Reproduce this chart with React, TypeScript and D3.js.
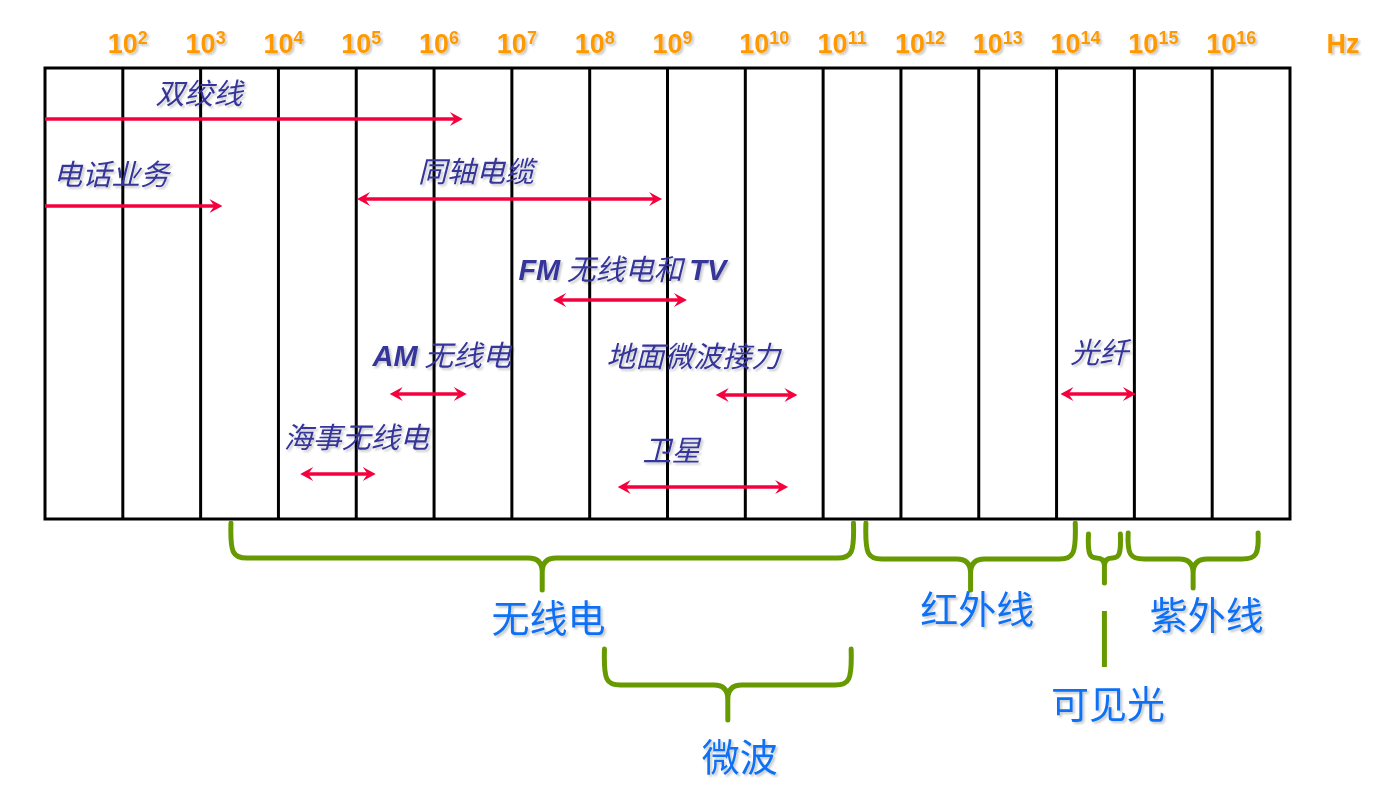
import * as d3 from "d3";

// frequency exponents shown on the top axis
const TICK_EXPONENTS = [2, 3, 4, 5, 6, 7, 8, 9, 10, 11, 12, 13, 14, 15, 16];
const DOMAIN_EXP = [1, 17];

// transmission media: ranges in log10(Hz)
const MEDIA = ["双绞线", "电话业务", "同轴电缆", "FM 无线电和 TV", "AM 无线电", "地面微波接力", "海事无线电", "卫星", "光纤"];
const MEDIA_FROM = [1, 1, 5.01, 7.53, 5.43, 9.62, 4.28, 8.36, 14.05];
const MEDIA_TO = [6.37, 3.28, 8.93, 9.25, 6.42, 10.67, 5.25, 10.55, 15.02];
const MEDIA_BOTH = [false, false, true, true, true, true, true, true, true];
const MEDIA_LEVEL = [51, 138, 131, 232, 326, 327, 406, 419, 326];
const LABEL_AT = [2.98, 1.85, 6.54, 8.42, 6.1, 9.33, 5.0, 9.05, 14.55];
const LABEL_LEVEL = [36, 117, 114, 212, 298, 299, 380, 393, 295];

// spectrum bands (braces under the box)
const BANDS = ["无线电", "微波", "红外线", "可见光", "紫外线"];
const BAND_FROM = [3.39, 8.19, 11.55, 14.41, 14.92];
const BAND_TO = [11.39, 11.36, 14.24, 14.82, 16.59];
const BAND_LABEL_AT = [7.47, 9.93, 12.98, 14.66, 15.93];

// brace layout (pixels): top, horizontal, tip, label baseline
const BRACE_LAYOUT = [
  { top: 523, mid: 558, tip: 590, base: 632 },
  { top: 649, mid: 685, tip: 720, base: 771 },
  { top: 523, mid: 559, tip: 590, base: 623 },
  { top: 534, mid: 558, tip: 583, base: 718, stem: [611, 667] },
  { top: 533, mid: 559, tip: 588, base: 629 },
];

const W = 1386, H = 804;
const BOX = { l: 45, r: 1290, t: 68, b: 519 };
const ORANGE = "#FF9900";
const RED = "#F5003C";
const NAVY = "#34349A";
const BLUE = "#1070F5";
const GREEN = "#669A00";
const CJK = "'Noto Sans CJK SC', sans-serif";
const LATIN = "'Liberation Sans', Arial, sans-serif";

function bracePath(x0: number, x1: number, top: number, mid: number, tip: number) {
  const xm = (x0 + x1) / 2;
  const r = Math.min(16, (x1 - x0) / 4);
  const r2 = Math.min(14, (x1 - x0) / 4);
  return `M${x0},${top} C${x0 - 1},${mid - r * 0.3} ${x0 + 2},${mid} ${x0 + r},${mid}`
    + ` L${xm - r2},${mid} Q${xm},${mid} ${xm},${mid + r2} L${xm},${tip}`
    + ` M${xm},${mid + r2} Q${xm},${mid} ${xm + r2},${mid} L${x1 - r},${mid}`
    + ` C${x1 - 2},${mid} ${x1 + 1},${mid - r * 0.3} ${x1},${top}`;
}

function arrowHead(x: number, y: number, dir: number) {
  const L = 13, w = 7, n = 8;
  return `M${x},${y} L${x - dir * L},${y - w} L${x - dir * n},${y} L${x - dir * L},${y + w} Z`;
}

function splitLabel(s: string) {
  return s.split(/([A-Za-z]+)/).filter(p => p.length > 0);
}

export default function App() {
  const x = d3.scaleLinear().domain(DOMAIN_EXP).range([BOX.l, BOX.r]);
  const y = d3.scaleLinear().domain([0, 450]).range([BOX.t, BOX.t + 450]);

  return (
    <svg width={W} height={H} style={{ position: "absolute", left: 0, top: 0, background: "#fff" }}>
      <defs>
        <filter id="sh" x="-10%" y="-20%" width="130%" height="150%">
          <feDropShadow dx="2" dy="2" stdDeviation="1.2" floodColor="#000" floodOpacity="0.22" />
        </filter>
      </defs>

      {/* top axis labels */}
      <g fill={ORANGE} fontFamily={LATIN} fontWeight="bold" filter="url(#sh)">
        {TICK_EXPONENTS.map(e => (
          <text key={e} x={x(e) + (e >= 10 ? 19 : 5)} y={53} textAnchor="middle" fontSize={27}>
            10<tspan dy={-9} fontSize={18}>{e}</tspan>
          </text>
        ))}
        <text x={1343} y={53} textAnchor="middle" fontSize={27}>Hz</text>
      </g>

      {/* box with decade lines */}
      <g stroke="#000" strokeWidth={3} fill="none">
        {TICK_EXPONENTS.map(e => (
          <line key={e} x1={x(e)} x2={x(e)} y1={BOX.t} y2={BOX.b} />
        ))}
        <rect x={BOX.l} y={BOX.t} width={BOX.r - BOX.l} height={BOX.b - BOX.t} />
      </g>

      {/* media arrows */}
      <g>
        {MEDIA.map((m, i) => {
          const x0 = x(MEDIA_FROM[i]), x1 = x(MEDIA_TO[i]), yy = y(MEDIA_LEVEL[i]);
          return (
            <g key={m}>
              <line x1={MEDIA_BOTH[i] ? x0 + 6 : x0} x2={x1 - 6} y1={yy} y2={yy} stroke={RED} strokeWidth={3.5} />
              <path d={arrowHead(x1, yy, 1)} fill={RED} />
              {MEDIA_BOTH[i] && <path d={arrowHead(x0, yy, -1)} fill={RED} />}
            </g>
          );
        })}
      </g>

      {/* media labels */}
      <g fill={NAVY} fontStyle="italic" filter="url(#sh)">
        {MEDIA.map((m, i) => (
          <text key={m} x={x(LABEL_AT[i])} y={y(LABEL_LEVEL[i])} textAnchor="middle" fontSize={29} fontFamily={CJK}>
            {splitLabel(m).map((p, j) =>
              /[A-Za-z]/.test(p)
                ? <tspan key={j} fontFamily={LATIN} fontWeight="bold">{p}</tspan>
                : <tspan key={j}>{p}</tspan>
            )}
          </text>
        ))}
      </g>

      {/* band braces */}
      <g fill="none" stroke={GREEN} strokeWidth={5} strokeLinecap="round" strokeLinejoin="round">
        {BANDS.map((b, i) => {
          const L = BRACE_LAYOUT[i];
          const x0 = x(BAND_FROM[i]), x1 = x(BAND_TO[i]);
          return (
            <g key={b}>
              <path d={bracePath(x0, x1, L.top, L.mid, L.tip)} />
              {L.stem && <line x1={(x0 + x1) / 2} x2={(x0 + x1) / 2} y1={L.stem[0]} y2={L.stem[1]} strokeLinecap="butt" />}
            </g>
          );
        })}
      </g>
      <g fill={BLUE} fontFamily={CJK} fontSize={38} filter="url(#sh)">
        {BANDS.map((b, i) => (
          <text key={b} x={x(BAND_LABEL_AT[i])} y={BRACE_LAYOUT[i].base} textAnchor="middle">{b}</text>
        ))}
      </g>
    </svg>
  );
}
